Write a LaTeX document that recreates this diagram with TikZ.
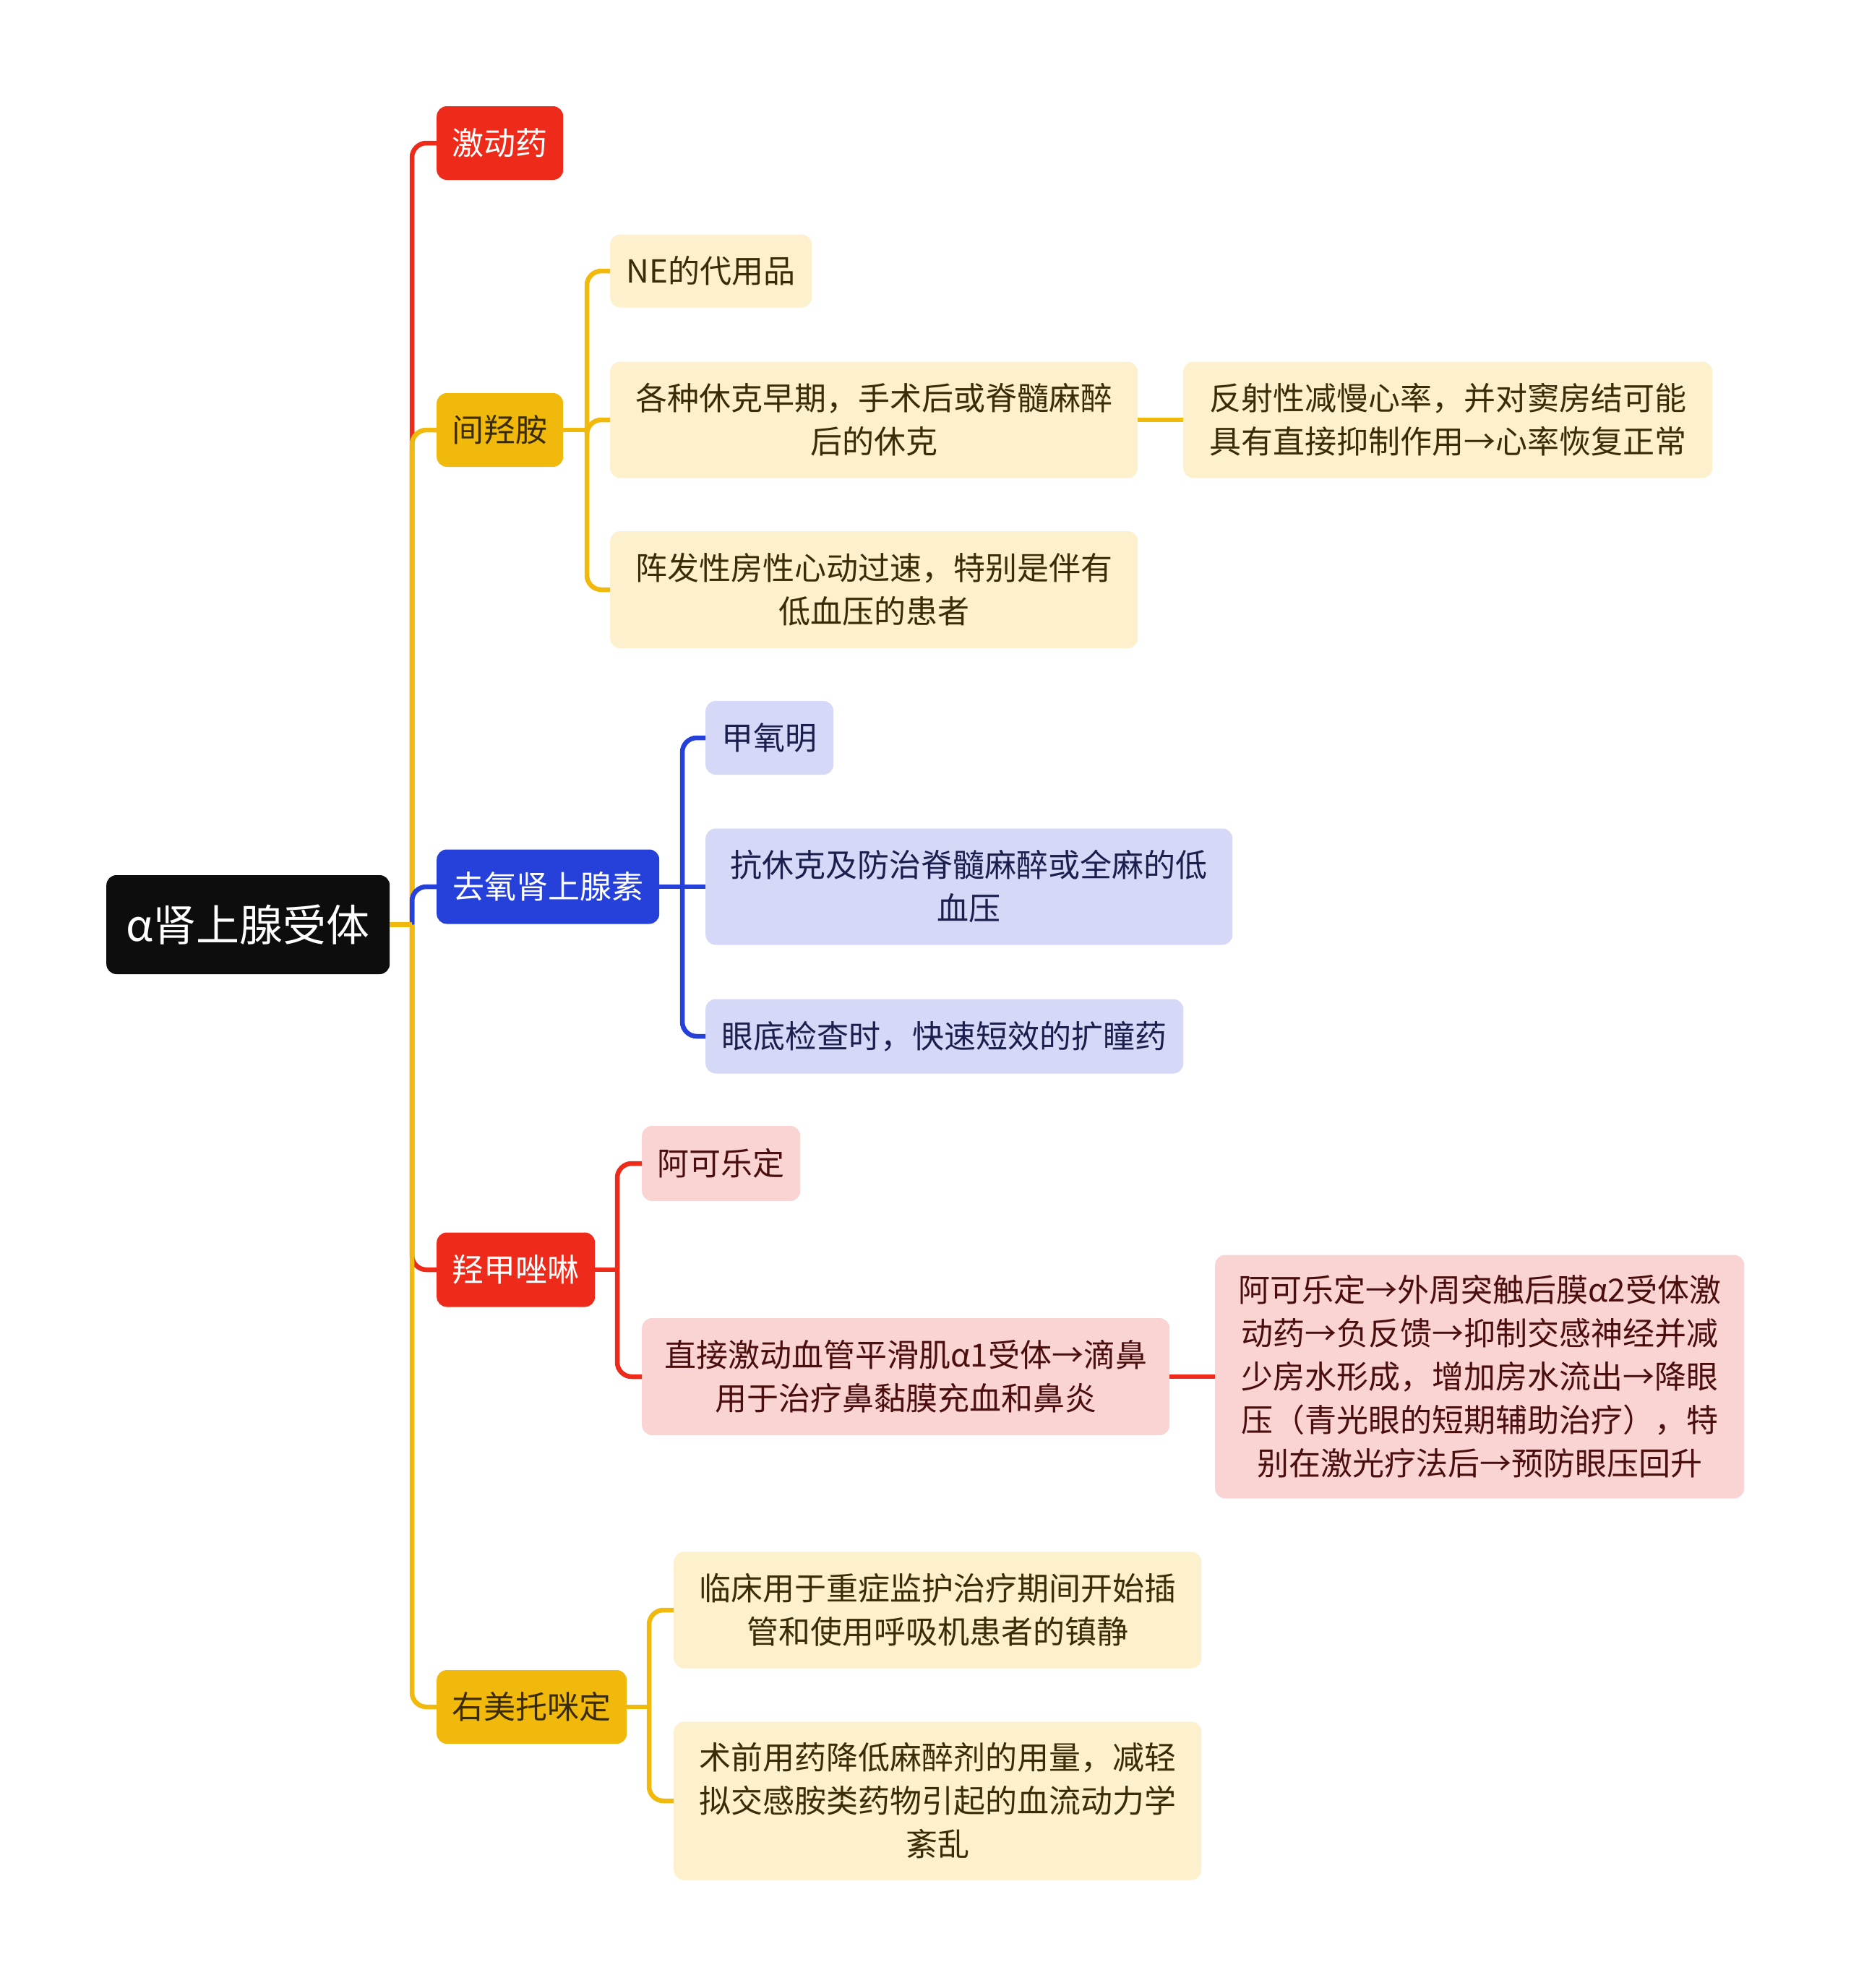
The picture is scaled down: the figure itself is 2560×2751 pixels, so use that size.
\documentclass[tikz,border=0pt]{standalone}
\usepackage{fontspec}
\setmainfont{Noto Sans CJK SC}
\definecolor{cred}{HTML}{EE2B1A}
\definecolor{cyel}{HTML}{F0B90B}
\definecolor{cblue}{HTML}{2541D9}
\definecolor{croot}{HTML}{0D0D0D}
\definecolor{fyel}{HTML}{FCF0CD}
\definecolor{flav}{HTML}{D5D9F7}
\definecolor{fpink}{HTML}{FAD4D2}
\definecolor{tyel}{HTML}{3A2C08}
\definecolor{tlav}{HTML}{1B1F4D}
\definecolor{tpink}{HTML}{4A0E0E}
\definecolor{tdark}{HTML}{3A2C00}
\begin{document}
\begin{tikzpicture}[x=1pt,y=1pt,
  box/.style={rounded corners=14pt, inner sep=0pt, align=center, anchor=west,
    font=\fontsize{44}{60}\selectfont},
  rootbox/.style={box, fill=croot, text=white, font=\fontsize{60}{72}\selectfont},
  redbox/.style={box, fill=cred, text=white},
  yelbox/.style={box, fill=cyel, text=tdark},
  bluebox/.style={box, fill=cblue, text=white},
  lyel/.style={box, fill=fyel, text=tyel},
  llav/.style={box, fill=flav, text=tlav},
  lpink/.style={box, fill=fpink, text=tpink},
  conn/.style={line width=6.5pt},
  rconn/.style={line width=6.5pt, rounded corners=20pt}]
\useasboundingbox (0,0) rectangle (2560,-2751);
\fill[white] (0,0) rectangle (2560,-2751);

% trunk coordinates
\coordinate (tr0) at (570,0);
\coordinate (tr2) at (812,0);
\coordinate (tr3) at (944,0);
\coordinate (tr4) at (854,0);
\coordinate (tr5) at (898,0);

% root
\node[rootbox, minimum width=392, minimum height=137] (root) at (147,-1279.5) {α肾上腺受体};

% level 1
\node[redbox, minimum width=175, minimum height=102] (n1) at (604,-198) {激动药};
\node[yelbox, minimum width=175, minimum height=102] (n2) at (604,-595) {间羟胺};
\node[bluebox, minimum width=308, minimum height=103] (n3) at (604,-1227) {去氧肾上腺素};
\node[redbox, minimum width=219, minimum height=103] (n4) at (604,-1757) {羟甲唑啉};
\node[yelbox, minimum width=263, minimum height=102] (n5) at (604,-2362) {右美托咪定};

% level 2 / 3
\node[lyel, minimum width=279, minimum height=101] (n21) at (844,-375) {NE的代用品};
\node[lyel, minimum width=730, minimum height=161] (n22) at (844,-581) {各种休克早期，手术后或脊髓麻醉\\后的休克};
\node[lyel, minimum width=730, minimum height=162] (n23) at (844,-816) {阵发性房性心动过速，特别是伴有\\低血压的患者};
\node[lyel, minimum width=732, minimum height=161] (n221) at (1637,-581) {反射性减慢心率，并对窦房结可能\\具有直接抑制作用→心率恢复正常};

\node[llav, minimum width=177, minimum height=102] (n31) at (976,-1021) {甲氧明};
\node[llav, minimum width=729, minimum height=161] (n32) at (976,-1227) {抗休克及防治脊髓麻醉或全麻的低\\血压};
\node[llav, minimum width=661, minimum height=103] (n33) at (976,-1434) {眼底检查时，快速短效的扩瞳药};

\node[lpink, minimum width=219, minimum height=104] (n41) at (888,-1610) {阿可乐定};
\node[lpink, minimum width=730, minimum height=162] (n42) at (888,-1905) {直接激动血管平滑肌α1受体→滴鼻\\用于治疗鼻黏膜充血和鼻炎};
\node[lpink, minimum width=732, minimum height=337] (n421) at (1681,-1905) {阿可乐定→外周突触后膜α2受体激\\动药→负反馈→抑制交感神经并减\\少房水形成，增加房水流出→降眼\\压（青光眼的短期辅助治疗），特\\别在激光疗法后→预防眼压回升};

\node[lyel, minimum width=730, minimum height=161] (n51) at (932,-2228) {临床用于重症监护治疗期间开始插\\管和使用呼吸机患者的镇静};
\node[lyel, minimum width=730, minimum height=219] (n52) at (932,-2492) {术前用药降低麻醉剂的用量，减轻\\拟交感胺类药物引起的血流动力学\\紊乱};

% root connectors
\draw[rconn, cred] (tr0 |- root.east) -- (tr0 |- n1.west) -- (n1.west);
\draw[rconn, cyel] (tr0 |- root.east) -- (tr0 |- n2.west) -- (n2.west);
\draw[rconn, cblue] (tr0 |- root.east) -- (tr0 |- n3.west) -- (n3.west);
\draw[rconn, cred] (tr0 |- root.east) -- (tr0 |- n4.west) -- (n4.west);
\draw[rconn, cyel] (tr0 |- root.east) -- (tr0 |- n5.west) -- (n5.west);
\draw[conn, cyel] (root.east) -- (tr0 |- root.east);

% 间羟胺
\draw[conn, cyel] (n2.east) -- (tr2 |- n2.east);
\draw[rconn, cyel] (tr2 |- n2.east) -- (tr2 |- n21.west) -- (n21.west);
\draw[rconn, cyel] (tr2 |- n2.east) -- (tr2 |- n22.west) -- (n22.west);
\draw[rconn, cyel] (tr2 |- n2.east) -- (tr2 |- n23.west) -- (n23.west);
\draw[conn, cyel] (n22.east) -- (n221.west);

% 去氧肾上腺素
\draw[rconn, cblue] (tr3 |- n3.east) -- (tr3 |- n31.west) -- (n31.west);
\draw[rconn, cblue] (tr3 |- n3.east) -- (tr3 |- n33.west) -- (n33.west);
\draw[conn, cblue] (n3.east) -- (n32.west);

% 羟甲唑啉
\draw[conn, cred] (n4.east) -- (tr4 |- n4.east);
\draw[rconn, cred] (tr4 |- n4.east) -- (tr4 |- n41.west) -- (n41.west);
\draw[rconn, cred] (tr4 |- n4.east) -- (tr4 |- n42.west) -- (n42.west);
\draw[conn, cred] (n42.east) -- (n421.west);

% 右美托咪定
\draw[conn, cyel] (n5.east) -- (tr5 |- n5.east);
\draw[rconn, cyel] (tr5 |- n5.east) -- (tr5 |- n51.west) -- (n51.west);
\draw[rconn, cyel] (tr5 |- n5.east) -- (tr5 |- n52.west) -- (n52.west);
\end{tikzpicture}
\end{document}
